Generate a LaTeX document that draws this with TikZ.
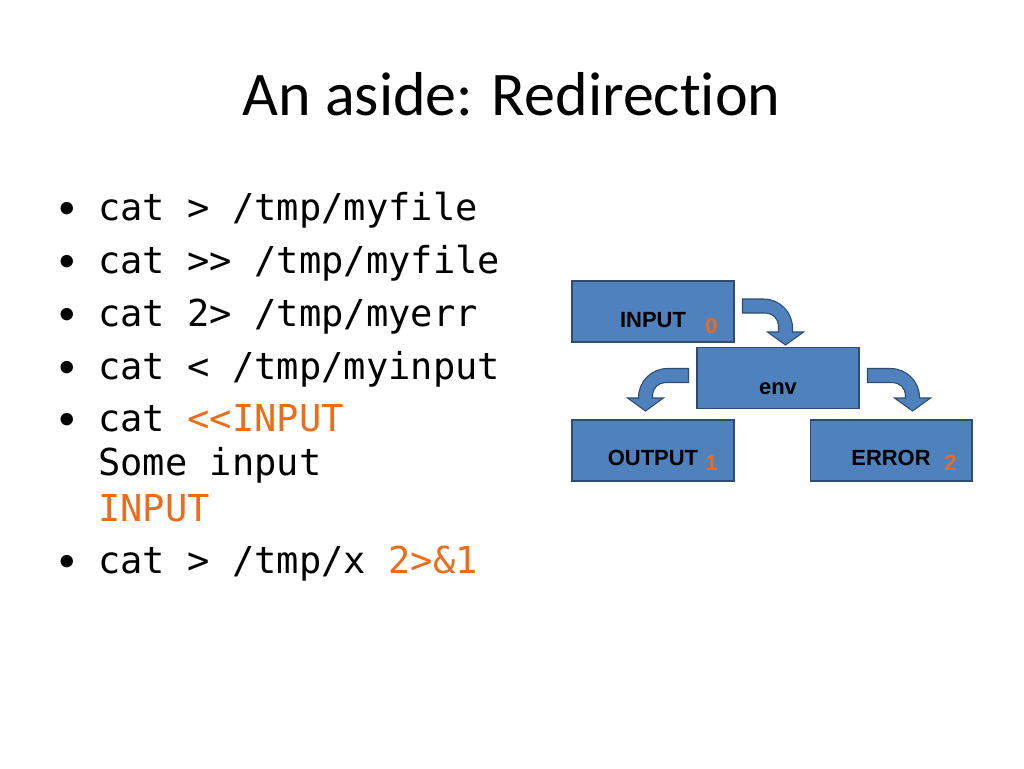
\documentclass[tikz,border=0pt]{standalone}
\usepackage{fontspec}
\setmainfont{Carlito}[Ligatures=NoCommon]
\setsansfont{Liberation Sans}
\setmonofont{DejaVu Sans Mono}
\usepackage{tikz}
\usetikzlibrary{calc}

\definecolor{boxblue}{RGB}{79,129,189}
\definecolor{boxedge}{RGB}{45,75,115}
\definecolor{hiorange}{RGB}{236,108,26}

% bent block arrow: #1 start, #2 direction (1 right, -1 left), #3 run, #4 drop
\newcommand{\bentarrow}[4]{%
  \begin{scope}[shift={#1}, xscale=#2]
    \filldraw[blockarrow] (0,7) -- ({#3-22},7) arc[start angle=90, end angle=0, radius=29]
      -- ({#3+7},{-#4}) -- ({#3+18},{-#4}) -- (#3,{-#4-13}) -- ({#3-18},{-#4})
      -- ({#3-7},{-#4}) -- ({#3-7},-20) arc[start angle=0, end angle=90, radius=13]
      -- (0,-7) -- cycle;
  \end{scope}}

\begin{document}
\begin{tikzpicture}[x=0.02cm, y=0.02cm,
    stream/.style={draw=boxedge, fill=boxblue, line width=0.6pt, minimum width=3.24cm, minimum height=1.22cm, inner sep=0pt},
    boxlabel/.style={font=\sffamily\bfseries\fontsize{12.5}{14}\selectfont, inner sep=0pt, anchor=base},
    fdnum/.style={font=\sffamily\bfseries\fontsize{12.5}{14}\selectfont, text=hiorange, inner sep=0pt, anchor=base},
    cmdline/.style={font=\ttfamily\fontsize{21.1}{25}\selectfont, inner sep=0pt, anchor=base west},
    bullet/.style={font=\fontsize{20}{24}\selectfont, inner sep=0pt, anchor=base},
    blockarrow/.style={draw=boxedge, fill=boxblue, line width=0.6pt}
  ]
  \fill[white] (0,0) rectangle (1024,-768);
  \useasboundingbox (0,0) rectangle (1024,-768);

  \node[font=\fontsize{35.3}{42}\selectfont, inner sep=0pt, anchor=base] (title) at (511.5,-115) {An aside: Redirection};

  % commands
  \node[bullet] (b1) at (67,-218) {\textbullet};
  \node[bullet] (b2) at (67,-271) {\textbullet};
  \node[bullet] (b3) at (67,-324) {\textbullet};
  \node[bullet] (b4) at (67,-377) {\textbullet};
  \node[bullet] (b5) at (67,-429) {\textbullet};
  \node[bullet] (b8) at (67,-571) {\textbullet};
  \node[cmdline] (l1) at (98,-220) {cat > /tmp/myfile};
  \node[cmdline] (l2) at (98,-273) {cat >> /tmp/myfile};
  \node[cmdline] (l3) at (98,-326) {cat 2> /tmp/myerr};
  \node[cmdline] (l4) at (98,-379) {cat < /tmp/myinput};
  \node[cmdline] (l5) at (98,-431) {cat \textcolor{hiorange}{<<INPUT}};
  \node[cmdline] (l6) at (98,-475) {Some input};
  \node[cmdline, text=hiorange] (l7) at (98,-521) {INPUT};
  \node[cmdline] (l8) at (98,-573) {cat > /tmp/x \textcolor{hiorange}{2>\&1}};

  % streams
  \node[stream] (inbox) at (653,-311.5) {};
  \node[stream] (envbox) at (778,-378) {};
  \node[stream] (outbox) at (653,-450.5) {};
  \node[stream] (errbox) at (891,-450.5) {};
  \node[boxlabel] (inlbl) at ([shift={(0,-15.5)}]inbox.center) {INPUT};
  \node[boxlabel] (envlbl) at ([shift={(0,-16)}]envbox.center) {env};
  \node[boxlabel] (outlbl) at ([shift={(0,-14.5)}]outbox.center) {OUTPUT};
  \node[boxlabel] (errlbl) at ([shift={(0,-14.5)}]errbox.center) {ERROR};
  \node[fdnum] (in0) at ([shift={(-23,-21.5)}]inbox.east) {0};
  \node[fdnum] (out1) at ([shift={(-23,-19.5)}]outbox.east) {1};
  \node[fdnum] (err2) at ([shift={(-22,-19.5)}]errbox.east) {2};

  \bentarrow{($(inbox.east)+(8,5.5)$)}{1}{43}{26}
  \bentarrow{($(envbox.west)+(-8,2.5)$)}{-1}{43}{22.5}
  \bentarrow{($(envbox.east)+(8,2.5)$)}{1}{45}{22.5}
\end{tikzpicture}
\end{document}
